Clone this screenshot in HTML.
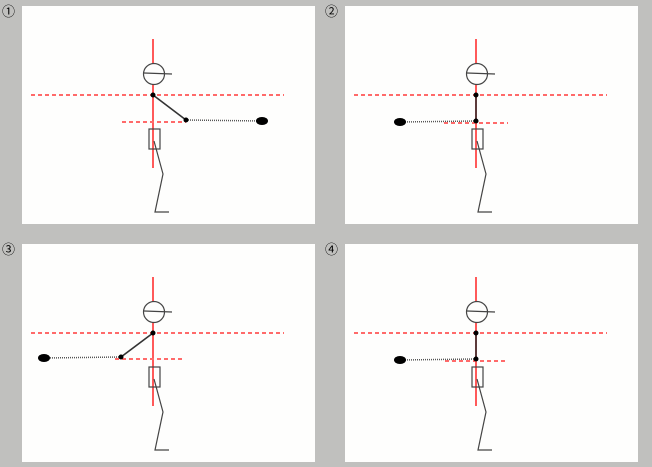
<!DOCTYPE html>
<html><head><meta charset="utf-8"><style>
html,body{margin:0;padding:0;background:#c0c0be;}
svg{display:block;}
text{font-family:"Liberation Sans","Noto Sans CJK JP",sans-serif;font-size:13px;}
</style></head><body>
<svg id="s" width="652" height="467">
<rect width="652" height="467" fill="#c0c0be"/>
</svg>
<script>
// panel data: label, panel origin, elbow offset and hand offset relative to shoulder
const labels = ['①','②','③','④'];
const originsX = [0, 323, 0, 323];
const originsY = [0, 0, 238, 238];
const elbowDX = [33, 0, -32, 0];
const elbowDY = [25, 26, 24, 26];
const handDX = [109, -76, -109, -76];
const shortDashFrom = [122, 121, 115, 122];
const shortDashTo = [186, 185, 185, 185];
const NS='http://www.w3.org/2000/svg';
const svg=document.getElementById('s');
function mk(tag,attrs,parent){const e=document.createElementNS(NS,tag);for(const k in attrs)e.setAttribute(k,attrs[k]);(parent||svg).appendChild(e);return e;}
labels.forEach((lab,i)=>{
  const ox=originsX[i], oy=originsY[i];
  const g=mk('g',{transform:`translate(${ox},${oy})`});
  
  
  const t=mk('text',{x:2,y:16},g);t.textContent=lab;
  
  
  const r=mk('rect',{x:22,y:6,width:293,height:218,fill:'#fefefd'},g);
  
  
  const sx=153, sy=95;
  const ex=sx+elbowDX[i], ey=sy+elbowDY[i], hx=sx+handDX[i];
  let e;
  e=mk('line',{x1:153,y1:39,x2:153,y2:168,stroke:'#ff5a5a','stroke-width':2},g);
  
  e=mk('line',{x1:31,y1:95,x2:284,y2:95,stroke:'#ff6a6a','stroke-width':2,'stroke-dasharray':'4,3'},g);
  
  e=mk('line',{x1:shortDashFrom[i],y1:ey+2,x2:shortDashTo[i],y2:ey+2,stroke:'#ff6a6a','stroke-width':2,'stroke-dasharray':'4,3'},g);
  
  e=mk('circle',{cx:154,cy:74,r:10.5,fill:'#fefefd',stroke:'#444','stroke-width':1.2},g);
  
  e=mk('line',{x1:144,y1:73,x2:172,y2:74,stroke:'#444','stroke-width':1.2},g);
  
  e=mk('line',{x1:sx,y1:sy,x2:ex,y2:ey,stroke:'#333','stroke-width':1.6},g);
  
  e=mk('line',{x1:ex,y1:ey,x2:hx,y2:ey+1,stroke:'#555','stroke-width':1.5,'stroke-dasharray':'1,1'},g);
  
  e=mk('ellipse',{cx:hx,cy:ey+1,rx:6,ry:4,fill:'#000'},g);
  
  e=mk('circle',{cx:sx,cy:sy,r:2.5,fill:'#000'},g);
  
  e=mk('circle',{cx:ex,cy:ey,r:2.5,fill:'#000'},g);
  
  e=mk('rect',{x:149,y:129,width:11,height:20,fill:'none',stroke:'#444','stroke-width':1.2},g);
  
  e=mk('polyline',{points:'154,141 163,174 155,212 169,212',fill:'none',stroke:'#444','stroke-width':1.2},g);
  
});
</script>
</body></html>
